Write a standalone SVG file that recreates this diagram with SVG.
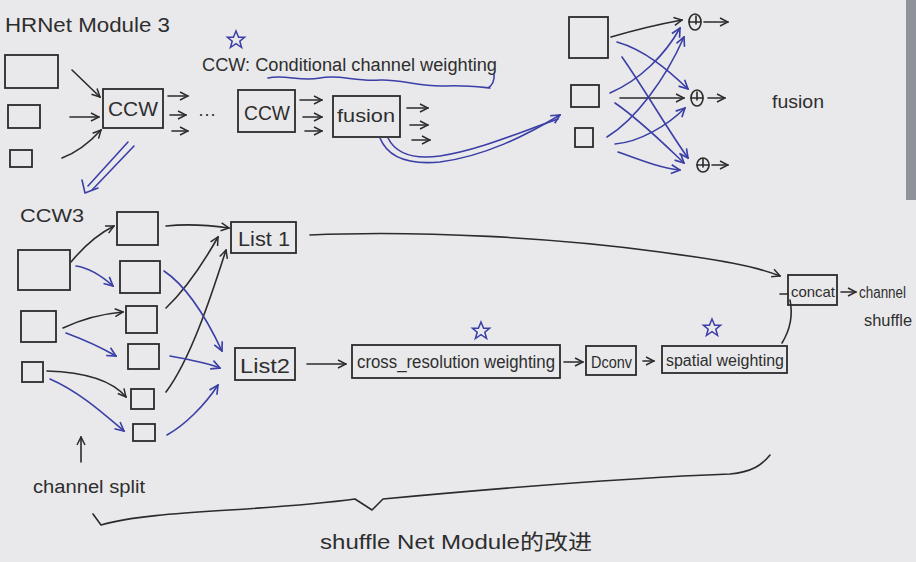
<svg xmlns="http://www.w3.org/2000/svg" width="916" height="562" viewBox="0 0 916 562">
<defs>
<style>
.bg{fill:#e9e9eb}
.k{fill:none;stroke:#2b2b2b;stroke-width:1.6;stroke-linecap:round;stroke-linejoin:round}
.b{fill:none;stroke:#3b3fa6;stroke-width:1.6;stroke-linecap:round;stroke-linejoin:round}
.box{fill:none;stroke:#2b2b2b;stroke-width:1.8}
.t{font-family:"Liberation Sans","Noto Sans CJK SC",sans-serif;fill:#2e2e2e}
.star{fill:none;stroke:#3b3fa6;stroke-width:1.5}
</style>
<marker id="ak" viewBox="0 0 10 10" refX="9" refY="5" markerWidth="10" markerHeight="10" markerUnits="userSpaceOnUse" orient="auto"><path d="M1,1 L9,5 L1,9" fill="none" stroke="#2b2b2b" stroke-width="1.5"/></marker>
<marker id="ab" viewBox="0 0 10 10" refX="9" refY="5" markerWidth="11" markerHeight="11" markerUnits="userSpaceOnUse" orient="auto"><path d="M1,1 L9,5 L1,9" fill="none" stroke="#3b3fa6" stroke-width="1.5"/></marker>
<path id="starshape" d="M0,-9 L2.6,-2.8 L8.6,-2.8 L3.8,1.2 L5.6,7.5 L0,3.6 L-5.6,7.5 L-3.8,1.2 L-8.6,-2.8 L-2.6,-2.8 Z"/>
</defs>
<rect class="bg" x="0" y="0" width="916" height="562"/>
<rect x="906" y="0" width="10" height="200" fill="#8f9298"/>

<text class="t" x="5" y="32" font-size="21" textLength="165" lengthAdjust="spacingAndGlyphs">HRNet Module 3</text>

<g id="hr-in1"><rect class="box" x="5" y="55" width="53" height="33"/></g>
<g id="hr-in2"><rect class="box" x="8" y="105" width="32" height="23"/></g>
<g id="hr-in3"><rect class="box" x="10" y="150" width="22" height="17"/></g>
<g id="ccw1"><rect class="box" x="103" y="89" width="60" height="39"/><text class="t" x="108" y="116" font-size="20" textLength="50" lengthAdjust="spacingAndGlyphs">CCW</text></g>
<text class="t" x="198" y="120" font-size="18">···</text>
<g id="ccw2"><rect class="box" x="238" y="90" width="57" height="42"/><text class="t" x="244" y="120" font-size="20" textLength="46" lengthAdjust="spacingAndGlyphs">CCW</text></g>
<g id="fusion"><rect class="box" x="333" y="96" width="67" height="41"/><text class="t" x="337" y="122" font-size="19" textLength="58" lengthAdjust="spacingAndGlyphs">fusion</text></g>
<g id="ccw-note">
<use href="#starshape" class="star" x="236" y="40"/>
<text class="t" x="202" y="71" font-size="18" textLength="295" lengthAdjust="spacingAndGlyphs">CCW: Conditional channel weighting</text>
<path class="b" d="M268,78 C285,74 300,82 320,78 C340,74 355,82 380,80 C400,79 420,87 445,86 C465,85 480,87 490,88 M488,88 C492,86 495,80 494,74"/>
</g>

<g id="fusion-grid">
<rect class="box" x="569" y="17" width="39" height="41"/>
<rect class="box" x="571" y="85" width="28" height="22"/>
<rect class="box" x="575" y="128" width="18" height="19"/>
<g id="add1"><ellipse class="k" cx="695" cy="22" rx="6" ry="8"/><path class="k" d="M689,22 H701 M696,16 V24"/></g>
<g id="add2"><ellipse class="k" cx="697" cy="98" rx="6" ry="8"/><path class="k" d="M691,98 H703 M697,92 V100"/></g>
<g id="add3"><ellipse class="k" cx="703" cy="165" rx="6" ry="7"/><path class="k" d="M697,165 H709 M703,159 V167"/></g>
<text class="t" x="772" y="108" font-size="19" textLength="52" lengthAdjust="spacingAndGlyphs">fusion</text>
</g>

<g id="ccw3-label"><text class="t" x="20" y="222" font-size="19" textLength="64" lengthAdjust="spacingAndGlyphs">CCW3</text></g>
<g id="c-a"><rect class="box" x="18" y="250" width="52" height="40"/></g>
<g id="c-b"><rect class="box" x="21" y="311" width="35" height="31"/></g>
<g id="c-c"><rect class="box" x="22" y="362" width="21" height="20"/></g>
<g id="m1"><rect class="box" x="117" y="212" width="41" height="33"/></g>
<g id="m2"><rect class="box" x="120" y="261" width="40" height="32"/></g>
<g id="m3"><rect class="box" x="126" y="306" width="31" height="27"/></g>
<g id="m4"><rect class="box" x="128" y="344" width="31" height="25"/></g>
<g id="m5"><rect class="box" x="131" y="389" width="23" height="20"/></g>
<g id="m6"><rect class="box" x="133" y="424" width="22" height="17"/></g>
<g id="list1"><rect class="box" x="231" y="222" width="65" height="31"/><text class="t" x="238" y="246" font-size="21" textLength="52" lengthAdjust="spacingAndGlyphs">List 1</text></g>
<g id="list2"><rect class="box" x="235" y="348" width="60" height="32"/><text class="t" x="240" y="373" font-size="21" textLength="50" lengthAdjust="spacingAndGlyphs">List2</text></g>
<g id="crw"><rect class="box" x="352" y="345" width="208" height="33"/><text class="t" x="357" y="368" font-size="18" textLength="198" lengthAdjust="spacingAndGlyphs">cross_resolution weighting</text><use href="#starshape" class="star" x="481" y="331"/></g>
<g id="dconv"><rect class="box" x="586" y="346" width="50" height="29"/><text class="t" x="591" y="368" font-size="17" textLength="41" lengthAdjust="spacingAndGlyphs">Dconv</text></g>
<g id="spw"><rect class="box" x="662" y="346" width="125" height="27"/><text class="t" x="666" y="366" font-size="16" textLength="118" lengthAdjust="spacingAndGlyphs">spatial weighting</text><use href="#starshape" class="star" x="712" y="328"/></g>
<g id="concat"><rect class="box" x="788" y="275" width="49" height="30"/><text class="t" x="791" y="297" font-size="15" textLength="44" lengthAdjust="spacingAndGlyphs">concat</text></g>
<g id="shuffle-label"><text class="t" x="859" y="298" font-size="16" textLength="47" lengthAdjust="spacingAndGlyphs">channel</text><text class="t" x="864" y="326" font-size="16" textLength="48" lengthAdjust="spacingAndGlyphs">shuffle</text></g>
<g id="split-label"><text class="t" x="33" y="493" font-size="18" textLength="112" lengthAdjust="spacingAndGlyphs">channel split</text></g>
<g id="brace-label"><path class="k" d="M93,514 L101,525 C150,510 260,512 355,499 L372,510 L383,499 C480,490 620,478 730,474 C752,472 762,465 770,455"/>
<text class="t" x="320" y="549" font-size="21" textLength="272" lengthAdjust="spacingAndGlyphs">shuffle Net Module的改进</text></g>

<g id="connectors">
<path class="k" marker-end="url(#ak)" d="M72,70 L100,97"/>
<path class="k" marker-end="url(#ak)" d="M70,117 L99,117"/>
<path class="k" marker-end="url(#ak)" d="M62,158 C78,152 90,142 101,130"/>
<path class="k" marker-end="url(#ak)" d="M168,96 H188"/>
<path class="k" marker-end="url(#ak)" d="M170,115 H186"/>
<path class="k" marker-end="url(#ak)" d="M172,131 H188"/>
<path class="k" marker-end="url(#ak)" d="M300,100 H322"/>
<path class="k" marker-end="url(#ak)" d="M303,117 H322"/>
<path class="k" marker-end="url(#ak)" d="M305,131 H322"/>
<path class="k" marker-end="url(#ak)" d="M407,108 H428"/>
<path class="k" marker-end="url(#ak)" d="M410,125 H428"/>
<path class="k" marker-end="url(#ak)" d="M412,140 H430"/>
<path class="b" d="M388,138 C395,152 410,160 440,156 C480,150 520,132 558,119"/>
<path class="b" marker-end="url(#ab)" d="M380,138 C388,158 408,165 440,162 C485,156 525,136 560,115"/>
<path class="b" d="M128,142 L88,186 M134,146 L92,190"/>
<path class="b" d="M82,180 L85,193 L98,188"/>
<path class="k" marker-end="url(#ak)" d="M611,37 C635,30 660,24 682,20"/>
<path class="k" marker-end="url(#ak)" d="M620,98 H684"/>
<path class="k" marker-end="url(#ak)" d="M704,22 H728"/>
<path class="k" marker-end="url(#ak)" d="M708,98 H725"/>
<path class="k" marker-end="url(#ak)" d="M712,165 H728"/>
<path class="b" marker-end="url(#ab)" d="M617,42 C645,50 668,70 688,89"/>
<path class="b" marker-end="url(#ab)" d="M622,57 C645,90 668,130 688,158"/>
<path class="b" marker-end="url(#ab)" d="M610,93 C640,80 665,55 680,28"/>
<path class="b" marker-end="url(#ab)" d="M615,103 C640,120 665,145 684,163"/>
<path class="b" marker-end="url(#ab)" d="M607,137 C635,120 665,80 684,37"/>
<path class="b" marker-end="url(#ab)" d="M615,144 C640,142 668,125 685,108"/>
<path class="b" marker-end="url(#ab)" d="M618,152 C640,160 660,168 680,170"/>

<path class="k" marker-end="url(#ak)" d="M71,262 C85,245 98,234 114,226"/>
<path class="b" marker-end="url(#ab)" d="M76,266 C90,268 104,278 113,286"/>
<path class="k" marker-end="url(#ak)" d="M63,328 C80,320 100,314 123,312"/>
<path class="b" marker-end="url(#ab)" d="M66,333 C85,340 102,348 116,356"/>
<path class="k" marker-end="url(#ak)" d="M47,371 C80,372 110,378 126,397"/>
<path class="b" marker-end="url(#ab)" d="M50,379 C80,392 105,415 124,431"/>
<path class="k" marker-end="url(#ak)" d="M166,226 C185,224 208,225 229,228"/>
<path class="k" marker-end="url(#ak)" d="M166,308 C185,290 205,260 218,237"/>
<path class="k" marker-end="url(#ak)" d="M166,392 C190,360 210,300 226,250"/>
<path class="b" marker-end="url(#ab)" d="M164,271 C185,285 205,315 222,351"/>
<path class="b" marker-end="url(#ab)" d="M170,356 C185,359 205,362 220,368"/>
<path class="b" marker-end="url(#ab)" d="M167,435 C185,425 205,405 218,385"/>
<path class="k" marker-end="url(#ak)" d="M307,364 H346"/>
<path class="k" marker-end="url(#ak)" d="M564,362 H583"/>
<path class="k" marker-end="url(#ak)" d="M643,361 H654"/>
<path class="k" marker-end="url(#ak)" d="M310,235 C420,230 560,238 660,252 C720,260 755,266 780,276"/>
<path class="k" d="M782,343 C790,330 793,315 790,300"/>
<path class="k" d="M780,294 H788"/>
<path class="k" marker-end="url(#ak)" d="M841,292 H856"/>
<path class="k" marker-end="url(#ak)" d="M81,462 V437"/>
</g>
</svg>
